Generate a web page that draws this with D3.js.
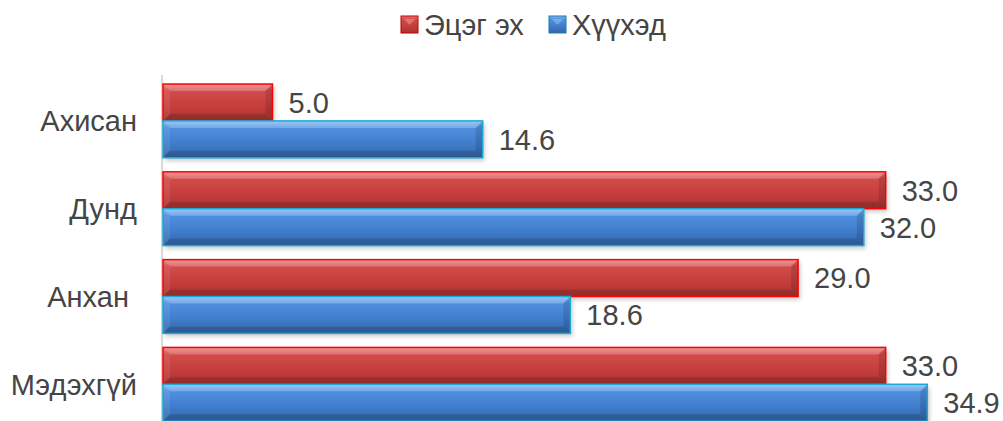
<!DOCTYPE html>
<html><head><meta charset="utf-8">
<script src="https://cdn.jsdelivr.net/npm/d3@7"></script>
<style>
html,body{margin:0;padding:0;background:#fff;}
svg{display:block;font-family:"Liberation Sans",Arial,sans-serif;}
</style></head>
<body>
<svg id="chart" width="1003" height="421"></svg>
<script>
const categories = ["Ахисан", "Дунд", "Анхан ", "Мэдэхгүй"];
const seriesNames = ["Эцэг эх", "Хүүхэд"];
const parentValues = [5.0, 33.0, 29.0, 33.0];
const childValues = [14.6, 32.0, 18.6, 34.9];

const data = categories.map((c, i) => ({cat: c, vals: [parentValues[i], childValues[i]]}));

const svg = d3.select("#chart");
const defs = svg.append("defs");

const palettes = [
  {stops: ["#ee7676", "#d24c4a", "#c53e3c", "#a93332"], stroke: "#ff0000", sw: 1.5},
  {stops: ["#7cb8f6", "#5190e0", "#3f7dcc", "#3566a8"], stroke: "#1aa9d4", sw: 1.5}
];
palettes.forEach((p, i) => {
  const g = defs.append("linearGradient").attr("id", "g" + i).attr("x1", 0).attr("y1", 0).attr("x2", 0).attr("y2", 1);
  [0, 0.18, 0.6, 1].forEach((o, k) => g.append("stop").attr("offset", o).attr("stop-color", p.stops[k]));
});
const f = defs.append("filter").attr("id", "sh").attr("x", "-5%").attr("y", "-20%").attr("width", "110%").attr("height", "160%");
f.append("feDropShadow").attr("dx", 2).attr("dy", 3).attr("stdDeviation", 2).attr("flood-color", "#000").attr("flood-opacity", 0.22);

const x = d3.scaleLinear().domain([0, 38]).range([163, 163 + 38 * 21.9]);
const y0 = d3.scaleBand().domain(categories).range([77, 77 + 4 * 87.8]).paddingInner(0.16).paddingOuter(0.08);
const y1 = d3.scaleBand().domain([0, 1]).range([0, y0.bandwidth()]);

const FS = 29, TXT = "#454545";

// axis line
svg.append("line").attr("x1", x(0) - 1).attr("x2", x(0) - 1).attr("y1", 75).attr("y2", 421)
  .attr("stroke", "#d9d9d9").attr("stroke-width", 2);

const groups = svg.selectAll("g.cat").data(data).join("g").attr("class", "cat")
  .attr("transform", d => `translate(0,${y0(d.cat)})`);

groups.each(function(d) {
  const g = d3.select(this);
  d.vals.forEach((v, s) => {
    const x0 = x(0), w = x(v) - x(0), y = y1(s), h = y1.bandwidth();
    const b = 7;
    const bar = g.append("g");
    bar.append("rect").attr("x", x0).attr("y", y).attr("width", w).attr("height", h)
      .attr("fill", `url(#g${s})`).attr("filter", "url(#sh)");
    bar.append("polygon").attr("points", [[x0, y], [x0 + w, y], [x0 + w - b, y + b], [x0 + b, y + b]].join(" "))
      .attr("fill", "#fff").attr("opacity", 0.22);
    bar.append("polygon").attr("points", [[x0, y + h], [x0 + w, y + h], [x0 + w - b, y + h - b], [x0 + b, y + h - b]].join(" "))
      .attr("fill", "#000").attr("opacity", 0.14);
    bar.append("polygon").attr("points", [[x0 + w, y], [x0 + w, y + h], [x0 + w - b, y + h - b], [x0 + w - b, y + b]].join(" "))
      .attr("fill", "#000").attr("opacity", 0.12);
    bar.append("polygon").attr("points", [[x0, y], [x0, y + h], [x0 + b, y + h - b], [x0 + b, y + b]].join(" "))
      .attr("fill", "#fff").attr("opacity", 0.08);
    bar.append("rect").attr("x", x0).attr("y", y).attr("width", w).attr("height", h)
      .attr("fill", "none").attr("stroke", palettes[s].stroke).attr("stroke-width", palettes[s].sw);
    g.append("text").attr("x", x(v) + 16).attr("y", y + h / 2).attr("dy", "0.36em")
      .attr("font-size", FS).attr("fill", TXT).text(v.toFixed(1));
  });
});

// category labels
svg.selectAll("text.cl").data(categories).join("text").attr("class", "cl")
  .attr("x", 137).attr("y", d => y0(d) + y0.bandwidth() / 2).attr("dy", "0.36em")
  .attr("text-anchor", "end").attr("font-size", FS).attr("fill", TXT)
  .style("white-space", "pre").text(d => d);

// legend
const legendX = [401, 549];
seriesNames.forEach((n, i) => {
  const lg = svg.append("g").attr("transform", `translate(${legendX[i]},16)`);
  lg.append("rect").attr("width", 17).attr("height", 17).attr("fill", `url(#g${i})`)
    .attr("stroke", i === 0 ? "#c00000" : "#1a7fa8").attr("stroke-width", 1);
  lg.append("polygon").attr("points", "3,3 14,3 8.5,9").attr("fill", "#fff").attr("opacity", 0.25);
  lg.append("text").attr("x", 23).attr("y", 9).attr("dy", "0.36em").attr("font-size", FS)
    .attr("fill", TXT).text(n);
});
</script>
</body></html>
